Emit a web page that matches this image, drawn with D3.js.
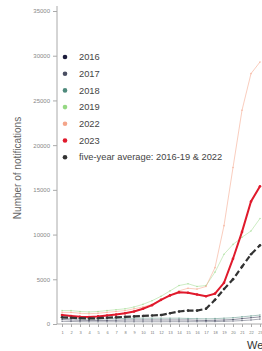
<!DOCTYPE html>
<html lang="en">
<head>
  <meta charset="UTF-8">
  <title>Weekly notifications</title>
  <style>
    body { margin: 0; background: #fff; font-family: "Liberation Sans", Arial, sans-serif; }
    svg { display: block; }
  </style>
  <script src="https://d3js.org/d3.v7.min.js"></script>
</head>
<body>
<svg width="262" height="351"></svg>
<script>
  const weeks = d3.range(1, 24);
  const yTicks = [0, 5000, 10000, 15000, 20000, 25000, 30000, 35000];

  const s2016 = [500, 450, 420, 400, 400, 400, 420, 450, 450, 450, 450, 450, 450, 450, 450, 420, 400, 420, 450, 500, 600, 700, 800];
  const s2017 = [300, 280, 260, 250, 250, 250, 250, 250, 250, 250, 250, 250, 260, 260, 260, 260, 260, 270, 300, 330, 380, 450, 550];
  const s2018 = [650, 620, 580, 560, 560, 580, 600, 620, 640, 650, 650, 650, 650, 650, 620, 600, 580, 600, 650, 700, 800, 900, 1000];
  const s2019 = [1500, 1500, 1400, 1350, 1400, 1500, 1600, 1700, 1900, 2200, 2600, 3100, 3700, 4300, 4500, 4200, 4300, 5800, 7800, 8900, 9700, 10400, 11800];
  const s2022 = [1300, 1300, 1200, 1150, 1200, 1300, 1400, 1500, 1700, 1900, 2200, 2700, 3200, 3700, 4000, 3900, 4200, 6300, 11000, 17500, 23900, 28000, 29300];
  const s2023 = [1000, 900, 800, 780, 850, 950, 1050, 1200, 1400, 1700, 2100, 2700, 3200, 3550, 3500, 3300, 3100, 3400, 4600, 7300, 10300, 13700, 15400];
  const sAvg  = [750, 700, 650, 620, 650, 700, 750, 800, 850, 900, 950, 1000, 1200, 1400, 1500, 1500, 1700, 2700, 3900, 5000, 6400, 7800, 8800];

  const series = [
    { name: "2016", values: s2016, color: "#1c1c3c", width: 0.8, opacity: 0.6 },
    { name: "2017", values: s2017, color: "#4a4e62", width: 0.8, opacity: 0.6 },
    { name: "2018", values: s2018, color: "#4f8a7c", width: 0.8, opacity: 0.6 },
    { name: "2019", values: s2019, color: "#95d883", width: 0.8, opacity: 0.6 },
    { name: "2022", values: s2022, color: "#f4a58a", width: 0.8, opacity: 0.7 },
    { name: "2023", values: s2023, color: "#e01a2c", width: 2, opacity: 1 },
    { name: "five-year average: 2016-19 & 2022", values: sAvg, color: "#333333", width: 2.2, opacity: 1, dash: "6,3" }
  ];

  const svg = d3.select("svg");
  const x = d3.scaleLinear().domain([1, 23]).range([62, 260]);
  const y = d3.scaleLinear().domain([0, 35000]).range([324, 11]);

  // y axis
  const yAxis = svg.append("g")
    .attr("transform", "translate(57,0)")
    .call(d3.axisLeft(y).tickValues(yTicks).tickSize(4).tickFormat(d3.format("d")));
  yAxis.select(".domain").attr("stroke", "#aaa").attr("d", "M0,324V6");
  yAxis.selectAll(".tick line").attr("stroke", "#aaa");
  yAxis.selectAll("text").attr("font-size", 6).attr("fill", "#888").attr("font-family", "Liberation Sans, Arial");

  // x axis
  const xAxis = svg.append("g")
    .attr("transform", "translate(0,324)")
    .call(d3.axisBottom(x).tickValues(weeks).tickSize(3).tickFormat(d3.format("d")));
  xAxis.select(".domain").attr("stroke", "#aaa").attr("d", "M57,0H262");
  xAxis.selectAll(".tick line").attr("stroke", "#aaa");
  xAxis.selectAll("text").attr("font-size", 4).attr("fill", "#777").attr("dy", "0.9em").attr("font-family", "Liberation Sans, Arial");

  svg.append("text")
    .attr("transform", "translate(21,168) rotate(-90)")
    .attr("text-anchor", "middle")
    .attr("font-size", 10)
    .attr("fill", "#666")
    .text("Number of notifications");

  svg.append("text")
    .attr("x", 247).attr("y", 349)
    .attr("font-size", 11)
    .attr("fill", "#333")
    .text("Week of notification");

  const line = d3.line().x((d, i) => x(weeks[i])).y(d => y(d));

  const g = svg.append("g");
  series.forEach(s => {
    g.append("path")
      .datum(s.values)
      .attr("fill", "none")
      .attr("stroke", s.color)
      .attr("stroke-width", s.width)
      .attr("stroke-opacity", s.opacity)
      .attr("stroke-dasharray", s.dash || null)
      .attr("d", line);
    g.selectAll(null)
      .data(s.values)
      .enter().append("circle")
      .attr("cx", (d, i) => x(weeks[i]))
      .attr("cy", d => y(d))
      .attr("r", s.width > 1 ? 1.3 : 0.8)
      .attr("fill", s.color)
      .attr("fill-opacity", s.opacity);
  });

  // legend
  const legend = svg.append("g");
  series.forEach((s, i) => {
    const ly = 57 + i * 16.7;
    legend.append("circle").attr("cx", 65).attr("cy", ly).attr("r", 2.3).attr("fill", s.color);
    legend.append("text")
      .attr("x", 79).attr("y", ly)
      .attr("dy", "0.35em")
      .attr("font-size", 9.3)
      .attr("fill", "#444")
      .text(s.name);
  });
</script>
</body>
</html>
